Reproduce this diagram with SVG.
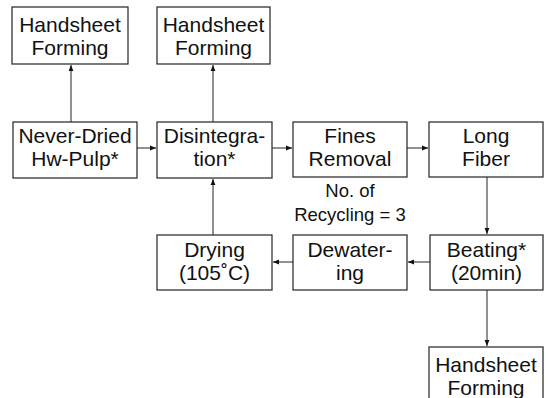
<svg xmlns="http://www.w3.org/2000/svg" width="552" height="398" viewBox="0 0 552 398">
<defs>
<marker id="ah" viewBox="0 0 10 10" refX="10" refY="5" markerWidth="6" markerHeight="6" markerUnits="userSpaceOnUse" orient="auto">
<path d="M0,1 L10,5 L0,9 Z" fill="#111"/>
</marker>
<style>
.box{fill:#fff;stroke:#222;stroke-width:1.2}
.t{font-family:"Liberation Sans",Arial,sans-serif;font-size:21px;fill:#111;text-anchor:middle}
.lab{font-family:"Liberation Sans",Arial,sans-serif;font-size:18.5px;fill:#111;text-anchor:middle}
.c{stroke:#222;stroke-width:1;fill:none;marker-end:url(#ah)}
</style>
</defs>
<rect width="552" height="398" fill="#fff"/>
<g id="connectors">
<line class="c" x1="71" y1="122" x2="71" y2="65"/>
<line class="c" x1="213" y1="122" x2="213" y2="65"/>
<line class="c" x1="137" y1="148" x2="156" y2="148"/>
<line class="c" x1="272" y1="148" x2="292" y2="148"/>
<line class="c" x1="407" y1="148" x2="428" y2="148"/>
<line class="c" x1="487" y1="177" x2="487" y2="234"/>
<line class="c" x1="430" y1="262" x2="408" y2="262"/>
<line class="c" x1="293" y1="262" x2="273" y2="262"/>
<line class="c" x1="213" y1="235" x2="213" y2="179"/>
<line class="c" x1="487" y1="290" x2="487" y2="346"/>
</g>
<g id="hs1"><rect class="box" x="12" y="7" width="116" height="57"/><text class="t" x="70" y="32">Handsheet</text><text class="t" x="70" y="55">Forming</text></g>
<g id="hs2"><rect class="box" x="157" y="7" width="113" height="57"/><text class="t" x="213.5" y="32">Handsheet</text><text class="t" x="213.5" y="55">Forming</text></g>
<g id="pulp"><rect class="box" x="13" y="122" width="124" height="56"/><text class="t" x="75" y="143">Never-Dried</text><text class="t" x="75" y="166">Hw-Pulp*</text></g>
<g id="disint"><rect class="box" x="157" y="122" width="115" height="56"/><text class="t" x="214.5" y="143">Disintegra-</text><text class="t" x="214.5" y="166">tion*</text></g>
<g id="fines"><rect class="box" x="293" y="122" width="114" height="55"/><text class="t" x="350" y="143">Fines</text><text class="t" x="350" y="166">Removal</text></g>
<g id="long"><rect class="box" x="429" y="122" width="114" height="55"/><text class="t" x="486" y="143">Long</text><text class="t" x="486" y="166">Fiber</text></g>
<g id="recycle"><text class="lab" x="350" y="197">No. of</text><text class="lab" x="350" y="221">Recycling = 3</text></g>
<g id="beating"><rect class="box" x="430" y="235" width="113" height="55"/><text class="t" x="486.5" y="257">Beating*</text><text class="t" x="486.5" y="280">(20min)</text></g>
<g id="dewater"><rect class="box" x="293" y="235" width="114" height="55"/><text class="t" x="350" y="257">Dewater-</text><text class="t" x="350" y="280">ing</text></g>
<g id="drying"><rect class="box" x="157" y="235" width="115" height="55"/><text class="t" x="214.5" y="257">Drying</text><text class="t" x="214.5" y="280">(105˚C)</text></g>
<g id="hs3"><rect class="box" x="429" y="347" width="114" height="60"/><text class="t" x="486" y="372">Handsheet</text><text class="t" x="486" y="395">Forming</text></g>
</svg>
